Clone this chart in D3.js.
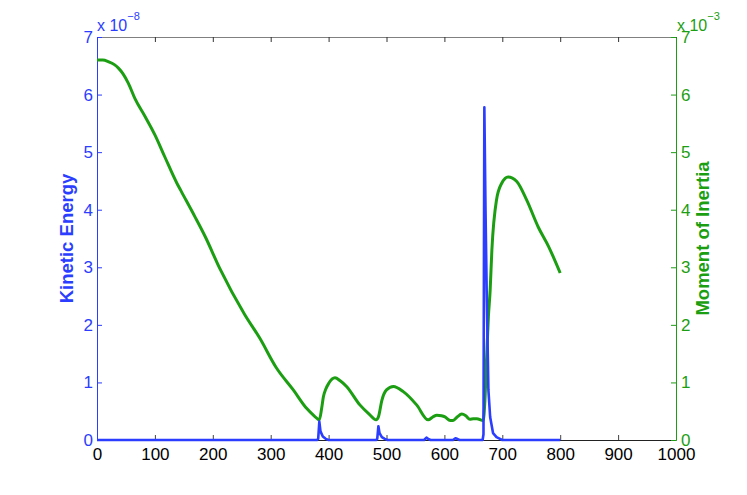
<!DOCTYPE html>
<html>
<head>
<meta charset="utf-8">
<script src="https://cdn.jsdelivr.net/npm/d3@7"></script>
<style>
  body { margin: 0; background: #fff; }
  svg { display: block; font-family: "Liberation Sans", Arial, Helvetica, sans-serif; }
</style>
</head>
<body>
<div id="chart"></div>
<script>
// time axis ticks
const timeTicks = [0, 100, 200, 300, 400, 500, 600, 700, 800, 900, 1000];
const leftTicks = [0, 1, 2, 3, 4, 5, 6, 7];   // x 10^-8
const rightTicks = [0, 1, 2, 3, 4, 5, 6, 7];  // x 10^-3

// kinetic energy (units of 1e-8)
const keTime = [0, 100, 200, 300, 380, 382, 384, 386, 390, 395, 400,
  482, 484, 486, 488, 492, 497, 502, 565, 569, 572, 576, 615, 619, 622, 626,
  666, 667.5, 669, 671, 673, 676, 679, 684, 690, 696, 700, 800];
const keValues = [0, 0, 0, 0, 0, 0.02, 0.32, 0.15, 0.06, 0.02, 0,
  0, 0.02, 0.24, 0.12, 0.05, 0.02, 0, 0, 0.04, 0.02, 0, 0, 0.03, 0.02, 0,
  0, 0.1, 5.78, 4.0, 2.6, 0.87, 0.4, 0.12, 0.05, 0.02, 0, 0];

// moment of inertia (units of 1e-3)
const moiTime = [0, 10, 20, 30, 37, 45, 54, 66, 83, 100, 117, 138, 146, 169, 187, 212,
  255, 281, 310, 339, 362, 375, 384, 388, 391, 395, 400, 411, 420, 431, 454, 470,
  482, 486, 492, 500, 512, 529, 552, 572, 580, 587, 595, 601, 610, 615, 622, 630,
  637, 644, 650, 656, 667, 670, 673, 676, 679, 682, 690, 699, 710, 725, 742, 762, 780, 800];
const moiValues = [6.60, 6.60, 6.57, 6.52, 6.46, 6.36, 6.20, 5.92, 5.62, 5.30, 4.92, 4.46, 4.31, 3.88, 3.53, 2.98,
  2.18, 1.77, 1.25, 0.87, 0.55, 0.42, 0.35, 0.55, 0.75, 0.88, 0.98, 1.08, 1.03, 0.93, 0.61, 0.45,
  0.35, 0.40, 0.69, 0.87, 0.93, 0.84, 0.61, 0.35, 0.40, 0.43, 0.42, 0.40, 0.34, 0.34, 0.40, 0.45,
  0.42, 0.36, 0.37, 0.37, 0.335, 0.69, 1.45, 2.14, 2.6, 3.3, 4.17, 4.46, 4.57, 4.49, 4.17, 3.70, 3.36, 2.90];

const blue = "#2b3dff";
const green = "#1c9e12";

const width = 747;
const height = 495;
const margin = { top: 37, left: 97, bottom: 55, right: 71 };
const iwidth = width - margin.left - margin.right;
const iheight = height - margin.top - margin.bottom;

const svg = d3.select("#chart")
    .append("svg")
    .attr("width", width)
    .attr("height", height);

const g = svg.append("g").attr("transform", `translate(${margin.left},${margin.top})`);

const x = d3.scaleLinear().domain([0, 1000]).range([0, iwidth]);
const yLeft = d3.scaleLinear().domain([0, 7]).range([iheight, 0]);
const yRight = d3.scaleLinear().domain([0, 7]).range([iheight, 0]);
const fmt = d3.format("d");

// top axis (gray, ticks inward)
const topAxis = g.append("g")
    .call(d3.axisTop(x).tickValues(timeTicks).tickSizeInner(-5).tickSizeOuter(0).tickFormat(""));
topAxis.select(".domain").attr("stroke", "#808080");
topAxis.selectAll(".tick line").attr("stroke", "#333");

// bottom axis
const bottomAxis = g.append("g")
    .attr("transform", `translate(0,${iheight})`)
    .call(d3.axisBottom(x).tickValues(timeTicks).tickFormat(fmt).tickSizeInner(-5).tickSizeOuter(0).tickPadding(8));
bottomAxis.select(".domain").attr("stroke", "#222");
bottomAxis.selectAll(".tick line").attr("stroke", "#444");
bottomAxis.selectAll("text").attr("font-size", 17).attr("fill", "#000");

// left axis
const leftAxis = g.append("g")
    .call(d3.axisLeft(yLeft).tickValues(leftTicks).tickFormat(fmt).tickSizeInner(-5).tickSizeOuter(0).tickPadding(4));
leftAxis.select(".domain").attr("stroke", blue);
leftAxis.selectAll(".tick line").attr("stroke", blue);
leftAxis.selectAll("text").attr("font-size", 17).attr("fill", blue);

// right axis
const rightAxis = g.append("g")
    .attr("transform", `translate(${iwidth},0)`)
    .call(d3.axisRight(yRight).tickValues(rightTicks).tickFormat(fmt).tickSizeInner(-5).tickSizeOuter(0).tickPadding(5));
rightAxis.select(".domain").attr("stroke", green);
rightAxis.selectAll(".tick line").attr("stroke", green);
rightAxis.selectAll("text").attr("font-size", 17).attr("fill", green);

g.selectAll(".tick text").attr("font-family", "Liberation Sans, Arial, sans-serif");

// lines
const keLine = d3.line()
    .x((d, i) => x(keTime[i]))
    .y(d => yLeft(d));

const moiLine = d3.line()
    .x((d, i) => x(moiTime[i]))
    .y(d => yRight(d))
    .curve(d3.curveMonotoneX);

g.append("path")
    .attr("d", moiLine(moiValues))
    .attr("fill", "none")
    .attr("stroke", green)
    .attr("stroke-width", 3)
    .attr("stroke-linejoin", "round");

g.append("path")
    .attr("d", keLine(keValues))
    .attr("fill", "none")
    .attr("stroke", blue)
    .attr("stroke-width", 2.6)
    .attr("stroke-linejoin", "round");

// exponent labels
const expL = svg.append("text")
    .attr("x", margin.left)
    .attr("y", 31)
    .attr("font-size", 16)
    .attr("fill", blue);
expL.append("tspan").text("x 10");
expL.append("tspan").attr("dy", -11).attr("font-size", 11).text("\u22128");

const expR = svg.append("text")
    .attr("x", margin.left + iwidth + 1)
    .attr("y", 31)
    .attr("font-size", 16)
    .attr("fill", green);
expR.append("tspan").text("x 10");
expR.append("tspan").attr("dy", -11).attr("font-size", 11).text("\u22123");

// axis titles
svg.append("text")
    .attr("transform", `translate(73,${margin.top + iheight / 2}) rotate(-90)`)
    .attr("text-anchor", "middle")
    .attr("font-size", 18.5)
    .attr("font-weight", "bold")
    .attr("fill", blue)
    .text("Kinetic Energy");

svg.append("text")
    .attr("transform", `translate(709,${margin.top + iheight / 2}) rotate(-90)`)
    .attr("text-anchor", "middle")
    .attr("font-size", 18.5)
    .attr("font-weight", "bold")
    .attr("fill", green)
    .text("Moment of Inertia");
</script>
</body>
</html>
